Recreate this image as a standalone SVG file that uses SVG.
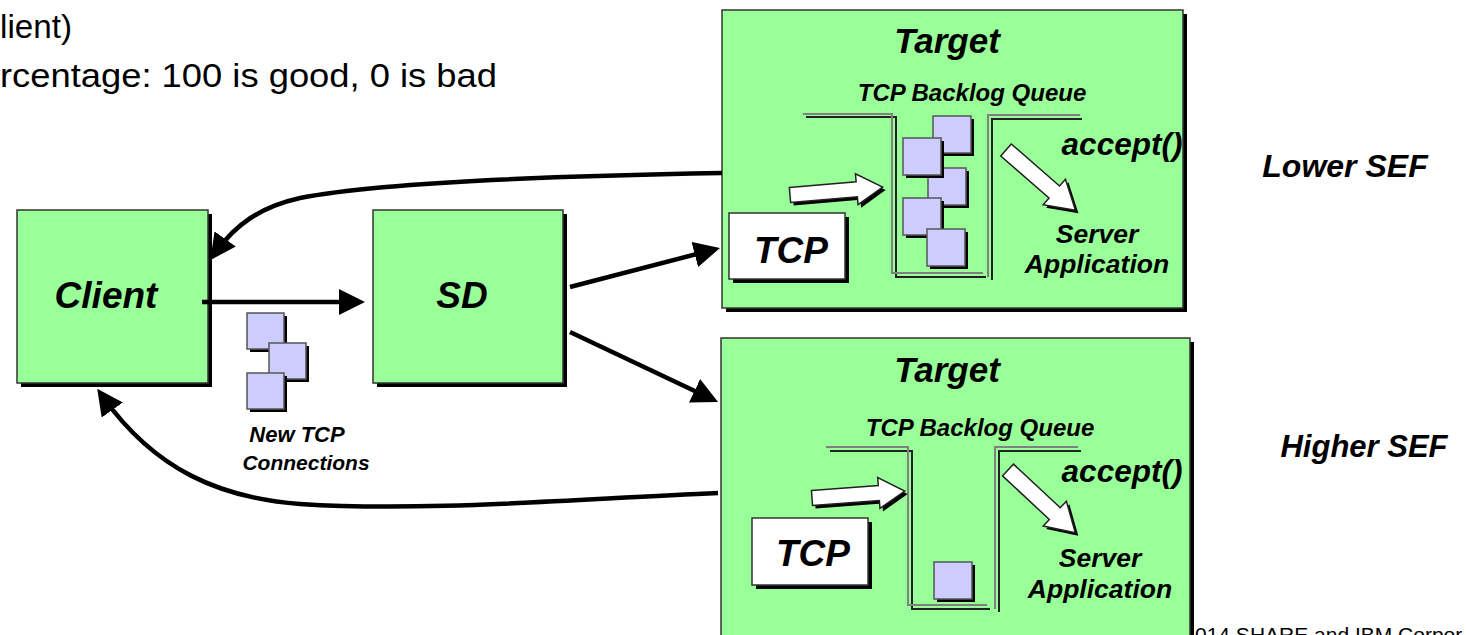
<svg xmlns="http://www.w3.org/2000/svg" xmlns:xlink="http://www.w3.org/1999/xlink" width="1466" height="635" viewBox="0 0 1466 635">
<style>
.lbl{font-family:"Liberation Sans",Arial,sans-serif;font-weight:bold;font-style:italic;fill:#000;text-anchor:middle}
.plain{font-family:"Liberation Sans",Arial,sans-serif;fill:#000}
.box{fill:#99ff99;stroke:#333;stroke-width:1.5}
.shadow{fill:#000}
.wbox{fill:#fff;stroke:#333;stroke-width:1.5}
.conn{fill:none;stroke:#000;stroke-width:4.5}
.chg{fill:none;stroke:#808080;stroke-width:2}
.chd{fill:none;stroke:#222;stroke-width:2}
.barrow{fill:#fff;stroke:#222;stroke-width:1.5}
</style>
<defs>
<marker id="ah" markerUnits="userSpaceOnUse" markerWidth="26" markerHeight="26" viewBox="0 0 26 26" refX="16" refY="13" orient="auto">
<path d="M0,0 L26,13 L0,26 Z" fill="#000"/>
</marker>
<g id="sq"><rect x="3" y="3" width="38" height="37" fill="#000"/><rect width="38" height="37" fill="#ccccff" stroke="#555" stroke-width="1.5"/></g>
<g id="sqs"><rect x="3" y="3" width="37" height="36" fill="#000"/><rect width="37" height="36" fill="#ccccff" stroke="#555" stroke-width="1.5"/></g>
<path id="bar" d="M0,-7.5 L67,-7.5 L67,-15.5 L93,0 L67,15.5 L67,7.5 L0,7.5 Z"/>
<path id="bar2" d="M0,-8 L64,-8 L64,-17 L92,0 L64,17 L64,8 L0,8 Z"/>
</defs>

<rect width="1466" height="635" fill="#fff"/>

<g id="header-text">
<text class="plain" x="0" y="38" font-size="33" textLength="72" lengthAdjust="spacingAndGlyphs">lient)</text>
<text class="plain" x="0" y="87" font-size="33" textLength="497" lengthAdjust="spacingAndGlyphs">rcentage: 100 is good, 0 is bad</text>
</g>

<g id="client">
<rect class="shadow" x="21" y="214" width="191" height="173"/>
<rect class="box" x="17" y="210" width="191" height="173"/>
<text class="lbl" x="106" y="308" font-size="37">Client</text>
</g>

<g id="sd">
<rect class="shadow" x="377" y="214" width="190" height="173"/>
<rect class="box" x="373" y="210" width="190" height="173"/>
<text class="lbl" x="462" y="308" font-size="37">SD</text>
</g>

<g id="new-connections">
<use href="#sqs" x="247" y="313"/>
<use href="#sqs" x="269" y="343"/>
<use href="#sqs" x="247" y="373"/>
<text class="lbl" x="297" y="442" font-size="22">New TCP</text>
<text class="lbl" x="306" y="470" font-size="21">Connections</text>
</g>

<g id="target-top">
<rect class="shadow" x="726" y="14" width="461" height="298"/>
<rect class="box" x="722" y="10" width="461" height="298"/>
<text class="lbl" x="947" y="53" font-size="35">Target</text>
<text class="lbl" x="972" y="101" font-size="24">TCP Backlog Queue</text>
<path class="chd" d="M806,117 H896 V277 H986"/>
<path class="chg" d="M803,114 H892 V273 H983"/>
<path class="chd" d="M992,280 V119 H1082"/>
<path class="chg" d="M988,277 V115 H1080"/>
<use href="#sq" x="933" y="116"/>
<use href="#sq" x="928" y="168"/>
<use href="#sq" x="903" y="138"/>
<use href="#sq" x="903" y="198"/>
<use href="#sq" x="927" y="229"/>
<rect class="shadow" x="733" y="217" width="116" height="66"/>
<rect class="wbox" x="729" y="213" width="116" height="66"/>
<text class="lbl" x="791" y="263" font-size="37">TCP</text>
<use href="#bar" transform="translate(793,198) rotate(-4.9)" fill="#000"/>
<use href="#bar" transform="translate(790,195) rotate(-4.9)" class="barrow"/>
<use href="#bar2" transform="translate(1009,153) rotate(41)" fill="#000"/>
<use href="#bar2" transform="translate(1006,150) rotate(41)" class="barrow"/>
<text class="lbl" x="1122" y="155" font-size="31.5">accept()</text>
<text class="lbl" x="1097" y="243" font-size="26.5">Server</text>
<text class="lbl" x="1097" y="273" font-size="26.5">Application</text>
</g>

<g id="target-bottom">
<rect class="shadow" x="725" y="342" width="469" height="320"/>
<rect class="box" x="721" y="338" width="469" height="320"/>
<text class="lbl" x="947" y="382" font-size="35">Target</text>
<text class="lbl" x="980" y="436" font-size="24">TCP Backlog Queue</text>
<path class="chd" d="M830,451 H912 V609 H990"/>
<path class="chg" d="M826,447 H908 V605 H987"/>
<path class="chd" d="M999,612 V451 H1081"/>
<path class="chg" d="M995,609 V447 H1078"/>
<use href="#sq" x="934" y="562"/>
<rect class="shadow" x="756" y="522" width="116" height="67"/>
<rect class="wbox" x="752" y="518" width="116" height="67"/>
<text class="lbl" x="813" y="566" font-size="37">TCP</text>
<use href="#bar" transform="translate(815,501) rotate(-4.3)" fill="#000"/>
<use href="#bar" transform="translate(812,498) rotate(-4.3)" class="barrow"/>
<use href="#bar2" transform="translate(1011,473) rotate(43)" fill="#000"/>
<use href="#bar2" transform="translate(1008,470) rotate(43)" class="barrow"/>
<text class="lbl" x="1122" y="482" font-size="31.5">accept()</text>
<text class="lbl" x="1100" y="567" font-size="26.5">Server</text>
<text class="lbl" x="1100" y="598" font-size="26.5">Application</text>
</g>

<g id="side-labels">
<text class="lbl" x="1345" y="177" font-size="32">Lower SEF</text>
<text class="lbl" x="1364" y="457" font-size="31">Higher SEF</text>
<text class="plain" x="1195" y="642" font-size="21">014 SHARE and IBM Corpor</text>
</g>

<g id="connectors">
<path class="conn" d="M202,302 L355,302" marker-end="url(#ah)"/>
<path class="conn" d="M570,287 L710.3,250.5" marker-end="url(#ah)"/>
<path class="conn" d="M570,332 L709,397.7" marker-end="url(#ah)"/>
<path class="conn" d="M722,173 C550,176 380,182 300,198 C260,207 235,225 216,252" marker-end="url(#ah)"/>
<path class="conn" d="M718,493 C560,500 420,512 300,504 C220,498 155,470 103,397" marker-end="url(#ah)"/>
</g>
</svg>
